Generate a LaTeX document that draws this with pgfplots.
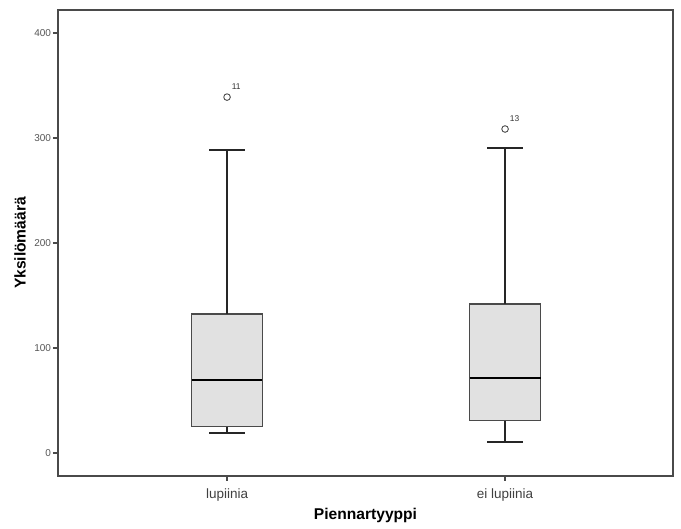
\documentclass[border=0pt]{standalone}
\usepackage{fontspec}
\setmainfont{Liberation Sans}
\usepackage{pgfplots}
\pgfplotsset{compat=1.18}
\definecolor{boxfill}{HTML}{E1E1E1}
\definecolor{framec}{HTML}{4A4A4A}
\definecolor{tickc}{HTML}{555555}
\begin{document}
\begin{tikzpicture}
\begin{axis}[
  scale only axis,
  width=307.5pt, height=233pt,
  xmin=0.392, xmax=2.604,
  ymin=-22, ymax=422,
  xtick={1,2}, xticklabels={lupiinia, ei lupiinia},
  ytick={0,100,200,300,400},
  tick align=outside, tick pos=left,
  major tick length=2.5pt,
  every tick/.style={framec, line width=0.6pt},
  axis line style={framec, line width=0.7pt},
  /pgf/number format/assume math mode=true,
  yticklabel style={font=\fontsize{5}{6}\selectfont, text=tickc, inner sep=0.8pt},
  xticklabel style={font=\fontsize{6.75}{8}\selectfont, text=black!75, inner sep=1.5pt, yshift=-2pt},
  xlabel={\textbf{Piennartyyppi}},
  ylabel={\textbf{Yksilömäärä}},
  label style={font=\fontsize{7.8}{9}\selectfont},
  xlabel style={at={(axis description cs:0.5,-0.0837)}, anchor=center},
  ylabel style={at={(axis description cs:-0.0618,0.5)}, anchor=center},
  clip=false,
]
% box 1 (lupiinia)
\addplot[draw=framec, fill=boxfill, line width=0.6pt] coordinates {(0.8725,24.8) (1.1275,24.8) (1.1275,132.4) (0.8725,132.4)} -- cycle;
\addplot[black!85, line width=0.8pt] coordinates {(1,132.4) (1,288.6)};
\addplot[black!85, line width=0.8pt] coordinates {(1,24.8) (1,19)};
\addplot[black!85, line width=0.8pt] coordinates {(0.9363,288.6) (1.0637,288.6)};
\addplot[black!85, line width=0.8pt] coordinates {(0.9363,19) (1.0637,19)};
\addplot[black, line width=1.3pt] coordinates {(0.8725,69.5) (1.1275,69.5)};
% box 2 (ei lupiinia)
\addplot[draw=framec, fill=boxfill, line width=0.6pt] coordinates {(1.8725,30.5) (2.1275,30.5) (2.1275,141.9) (1.8725,141.9)} -- cycle;
\addplot[black!85, line width=0.8pt] coordinates {(2,141.9) (2,290.5)};
\addplot[black!85, line width=0.8pt] coordinates {(2,30.5) (2,10.5)};
\addplot[black!85, line width=0.8pt] coordinates {(1.9363,290.5) (2.0637,290.5)};
\addplot[black!85, line width=0.8pt] coordinates {(1.9363,10.5) (2.0637,10.5)};
\addplot[black, line width=1.3pt] coordinates {(1.8725,71.4) (2.1275,71.4)};
% outliers
\addplot[only marks, mark=o, mark size=1.65pt, mark options={draw=framec, line width=0.45pt}]
  coordinates {(1,339) (2,308.6)};
\node[font=\fontsize{4.2}{5}\selectfont, text=black!80, anchor=south west, inner sep=0pt] at (axis cs:1.016,346) {11};
\node[font=\fontsize{4.2}{5}\selectfont, text=black!80, anchor=south west, inner sep=0pt] at (axis cs:2.016,315) {13};
\coordinate (sw) at (axis cs:0.392,-22);
\coordinate (ne) at (axis cs:2.604,422);
\end{axis}
\path[use as bounding box] ([xshift=-29pt,yshift=-24.5pt]sw) rectangle ([xshift=4pt,yshift=5pt]ne);
\end{tikzpicture}
\end{document}
